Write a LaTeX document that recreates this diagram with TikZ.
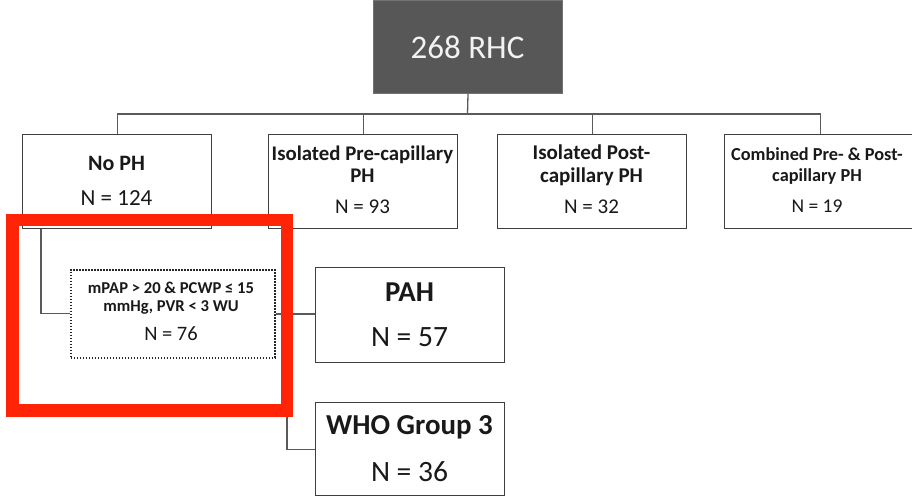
\documentclass[tikz,border=0pt]{standalone}
\usepackage{fontspec}
\setmainfont{Carlito}
\usetikzlibrary{calc}
\definecolor{boxline}{HTML}{3F3F3F}
\definecolor{wire}{HTML}{5A5A5A}
\definecolor{topfill}{HTML}{575757}
\definecolor{alertred}{RGB}{255,36,6}
\begin{document}
\begin{tikzpicture}[x=1pt,y=-1pt,
  box/.style={draw=boxline,line width=1.4pt,fill=white,inner sep=0pt,anchor=north west},
  subbox/.style={draw=black!85,line width=1.5pt,dash pattern=on 1.6pt off 1.4pt,fill=white,inner sep=0pt,anchor=north west},
  wire/.style={draw=wire,line width=1.3pt},
  lbl/.style={inner sep=0pt,align=center,text=black!90},
  fs/.style={font=\fontsize{#1}{#1}\selectfont},
  bfs/.style={font=\bfseries\fontsize{#1}{#1}\selectfont}]
\useasboundingbox (0,0) rectangle (912,497);

% top box
\node[draw=black!55,line width=1pt,fill=topfill,inner sep=0pt,anchor=north west,
      minimum width=189pt,minimum height=93pt] (top) at (373,0) {};
\node[lbl,text=white!95!black,fs=33] (toplbl) at (467.5,47) {268 RHC};

% first row
\node[box,minimum width=189pt,minimum height=94pt] (nph) at (22,134) {};
\node[box,minimum width=189pt,minimum height=94pt] (pre) at (268,134) {};
\node[box,minimum width=189pt,minimum height=94pt] (post) at (497,134) {};
\node[box,minimum width=191pt,minimum height=94pt] (comb) at (724,134) {};

\node[lbl,bfs=22] (nphA) at (116.5,163) {No PH};
\node[lbl,fs=23] (nphB) at (116.5,198) {N = 124};

\node[lbl,font=\bfseries\fontsize{20.8}{22}\selectfont] (preA) at (362.5,164) {Isolated Pre-capillary\\PH};
\node[lbl,fs=21] (preB) at (362.5,207) {N = 93};

\node[lbl,font=\bfseries\fontsize{21}{23}\selectfont] (postA) at (591.5,165.5) {Isolated Post-\\capillary PH};
\node[lbl,fs=21] (postB) at (591.5,207) {N = 32};

\node[lbl,font=\bfseries\fontsize{18.3}{21}\selectfont] (combA) at (817,166.5) {Combined Pre- \& Post-\\capillary PH};
\node[lbl,fs=19.5] (combB) at (817,206) {N = 19};

% refined subgroup
\node[subbox,minimum width=204pt,minimum height=88pt] (sub) at (70,269) {};
\node[lbl,font=\bfseries\fontsize{16.6}{18}\selectfont] (subA) at (171,298) {mPAP > 20 \& PCWP ≤ 15\\mmHg, PVR < 3 WU};
\node[lbl,fs=20.5] (subB) at (171,334) {N = 76};

% final groups
\node[box,minimum width=189pt,minimum height=95pt] (pah) at (315,267) {};
\node[lbl,bfs=28.8] (pahA) at (409.5,292) {PAH};
\node[lbl,fs=29.5] (pahB) at (409.5,337) {N = 57};

\node[box,minimum width=189pt,minimum height=93pt] (who) at (315,402) {};
\node[lbl,bfs=28.9] (whoA) at (409.5,427) {WHO Group 3};
\node[lbl,fs=29.5] (whoB) at (409.5,472) {N = 36};

% connectors
\coordinate (bus) at (467.5,114);
\draw[wire] (top.south) -- (bus);
\draw[wire] (nph.north) |- (bus) -| (comb.north);
\draw[wire] (pre.north) -- (pre.north |- bus);
\draw[wire] (post.north) -- (post.north |- bus);
\draw[wire] ([xshift=19pt]nph.south west) |- (sub.west);
\coordinate (split) at (287,314);
\draw[wire] (sub.east |- split) -- (split) -- (pah.west |- split);
\draw[wire] (split) |- (who.west);

% highlight frame
\node[draw=alertred,line width=12.5pt,inner sep=0pt,anchor=north west,
      minimum width=274.5pt,minimum height=190.5pt] (hl) at (6.25,213.5) {};
\end{tikzpicture}
\end{document}
